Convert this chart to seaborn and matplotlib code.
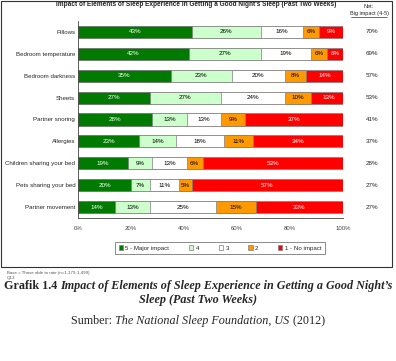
"""Stacked horizontal bars: impact of sleep elements (NSF 2012)."""
import numpy as np
import pandas as pd
import matplotlib
matplotlib.use("Agg")
import matplotlib.pyplot as plt
from matplotlib.patches import Patch, Rectangle
from matplotlib.lines import Line2D
import seaborn as sns

categories = [
    "Pillows",
    "Bedroom temperature",
    "Bedroom darkness",
    "Sheets",
    "Partner snoring",
    "Allergies",
    "Children sharing your bed",
    "Pets sharing your bed",
    "Partner movement",
]
levels = ["5 - Major impact", "4", "3", "2", "1 - No impact"]
major = [43, 42, 35, 27, 28, 23, 19, 20, 14]
four = [26, 27, 23, 27, 13, 14, 9, 7, 13]
three = [16, 19, 20, 24, 13, 18, 13, 11, 25]
two = [6, 6, 8, 10, 9, 11, 6, 5, 15]
no_impact = [9, 6, 14, 13, 37, 34, 53, 57, 33]
net_big = [70, 69, 57, 53, 41, 37, 28, 27, 27]

colors = ["#007a00", "#ccffcc", "#ffffff", "#ff9900", "#ff0000"]
text_colors = ["white", "black", "black", "black", "white"]

sns.set_style("white")
plt.rcParams["font.family"] = ["Liberation Sans", "DejaVu Sans"]

fig = plt.figure(figsize=(3.96, 3.61), dpi=100)
ax = fig.add_axes([78 / 396, 1 - 218 / 361, 265 / 396, 197 / 361])

series = [major, four, three, two, no_impact]
values = np.array(series, dtype=float)
cum = values.cumsum(axis=0)

# draw from the longest cumulative bar down so each segment shows on top
for k in range(len(levels) - 1, -1, -1):
    df = pd.DataFrame({"cat": categories, "x": cum[k]})
    sns.barplot(data=df, x="x", y="cat", orient="h", color=colors[k], saturation=1,
                width=0.55, edgecolor="#7f7f7f", linewidth=0.5, ax=ax)

for k in range(len(levels)):
    left = cum[k] - values[k]
    for i, v in enumerate(values[k]):
        ax.text(left[i] + v / 2, i, f"{int(v)}%", ha="center", va="center",
                fontsize=4.5, color=text_colors[k])

for i, n in enumerate(net_big):
    ax.text(1.11, i, f"{n}%", transform=ax.get_yaxis_transform(), ha="center",
            va="center", fontsize=4.5)

ax.set_xlim(0, 100)
ax.set_ylim(len(categories) - 0.5, -0.5)
ax.set_xticks(range(0, 101, 20))
ax.set_xticklabels([f"{t}%" for t in range(0, 101, 20)])
ax.tick_params(axis="x", labelsize=4.3, length=2, width=0.5, pad=4, colors="#444444")
ax.tick_params(axis="y", labelsize=4.4, length=0, pad=2)
ax.set_xlabel("")
ax.set_ylabel("")
for s in ["top", "right"]:
    ax.spines[s].set_visible(False)
for s in ["left", "bottom"]:
    ax.spines[s].set_linewidth(0.6)
    ax.spines[s].set_color("#444444")

handles = [Patch(facecolor=c, edgecolor="#7f7f7f", linewidth=0.5) for c in colors]
leg = fig.legend(handles, levels, loc="center", bbox_to_anchor=(220 / 396, 1 - 248 / 361),
                 ncol=5, fontsize=4.4, frameon=True, fancybox=False, edgecolor="#555555",
                 handlelength=0.7, handleheight=0.7, handletextpad=0.4, columnspacing=3.2,
                 borderpad=0.6)
leg.get_frame().set_linewidth(0.6)

fig.text(196 / 396, 1 - 4 / 361, "Impact of Elements of Sleep Experience in Getting a Good Night's "
         "Sleep (Past Two Weeks)", ha="center", va="center", fontsize=4.7, fontweight="bold")
fig.text(369 / 396, 1 - 7 / 361, "Net:", ha="center", va="center", fontsize=4.0)
fig.text(369 / 396, 1 - 14 / 361, "Big impact (4-5)", ha="center", va="center", fontsize=4.0)
fig.add_artist(Line2D([351 / 396, 387 / 396], [1 - 17 / 361, 1 - 17 / 361],
                      color="black", linewidth=0.4))

fig.add_artist(Rectangle((1 / 396, 1 - 267 / 361), 391 / 396, 266 / 361, fill=False,
                         edgecolor="#333333", linewidth=0.8, transform=fig.transFigure))

fig.text(7 / 396, 1 - 273 / 361, "Base = Those able to rate (n=1,179-1,499)", fontsize=3.2,
         va="center", color="#555555")
fig.text(7 / 396, 1 - 278 / 361, "Q13", fontsize=3.2, va="center", color="#555555")

serif = ["Liberation Serif", "DejaVu Serif"]
renderer = fig.canvas.get_renderer()


def caption_line(parts, y, size=8.7):
    """Lay out (text, weight, style) pieces side by side, centred on the figure."""
    texts = [fig.text(0, y, s, fontsize=size, fontweight=w, style=st, family=serif,
                      va="center", ha="left") for s, w, st in parts]
    widths = [t.get_window_extent(renderer).width for t in texts]
    x = (fig.bbox.width - sum(widths)) / 2
    for t, w in zip(texts, widths):
        t.set_x(x / fig.bbox.width)
        x += w


caption_line([("Grafik 1.4 ", "bold", "normal"),
              ("Impact of Elements of Sleep Experience in Getting a Good Night\u2019s",
               "bold", "italic")], 1 - 286 / 361)
caption_line([("Sleep (Past Two Weeks)", "bold", "italic")], 1 - 300 / 361)
caption_line([("Sumber: ", "normal", "normal"),
              ("The National Sleep Foundation, US", "normal", "italic"),
              (" (2012)", "normal", "normal")], 1 - 321 / 361)

fig.savefig("out.png", dpi=100)
